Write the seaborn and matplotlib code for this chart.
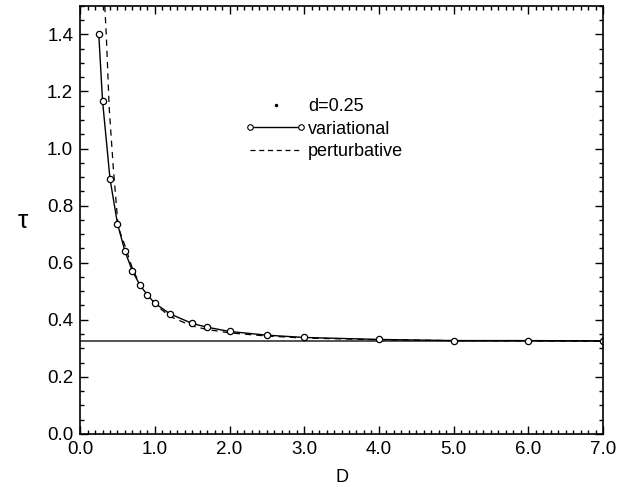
import numpy as np
import pandas as pd
import seaborn as sns
import matplotlib.pyplot as plt
from matplotlib.lines import Line2D
from matplotlib.legend_handler import HandlerLine2D
from matplotlib.ticker import MultipleLocator, FormatStrFormatter

# variational points (circles)
var_D = [0.25, 0.3, 0.4, 0.5, 0.6, 0.7, 0.8, 0.9, 1.0, 1.2, 1.5, 1.7, 2.0, 2.5,
         3.0, 4.0, 5.0, 6.0, 7.0]
var_tau = [1.40, 1.168, 0.894, 0.737, 0.640, 0.571, 0.522, 0.487, 0.458, 0.421,
           0.387, 0.374, 0.359, 0.346, 0.338, 0.331, 0.327, 0.327, 0.326]

# perturbative curve (dashed)
pert_D = [0.33, 0.35, 0.39, 0.445, 0.51, 0.6, 0.7, 0.8, 1.0, 1.2, 1.5, 1.7,
          2.0, 2.5, 3.0, 4.0, 5.0, 6.0, 7.0]
pert_tau = [1.50, 1.40, 1.14, 0.93, 0.725, 0.66, 0.58, 0.524, 0.455, 0.412,
            0.378, 0.366, 0.354, 0.343, 0.336, 0.330, 0.327, 0.326, 0.325]

# asymptotic limit
tau_inf = 0.324

sns.set_style('ticks')
plt.rcParams['font.family'] = ['Liberation Sans', 'DejaVu Sans']
plt.rcParams['text.color'] = 'black'
plt.rcParams['axes.labelcolor'] = 'black'
plt.rcParams['xtick.color'] = 'black'
plt.rcParams['ytick.color'] = 'black'
plt.rcParams['axes.edgecolor'] = 'black'

fig = plt.figure(figsize=(6.21, 4.87), dpi=100)
ax = fig.add_axes([0.129, 0.109, 0.842, 0.879])

var_df = pd.DataFrame({'D': var_D, 'tau': var_tau})
pert_df = pd.DataFrame({'D': pert_D, 'tau': pert_tau})

sns.lineplot(data=pert_df, x='D', y='tau', ax=ax, color='black', lw=0.9,
             linestyle=(0, (5, 4)), sort=False)
sns.lineplot(data=var_df, x='D', y='tau', ax=ax, color='black', lw=1.0,
             marker='o', markersize=4.5, markerfacecolor='white',
             markeredgecolor='black', markeredgewidth=0.9, sort=False)
ax.axhline(tau_inf, color='#444444', lw=1.3, zorder=0)

ax.set_xlim(0, 7)
ax.set_ylim(0, 1.5)
ax.xaxis.set_major_locator(MultipleLocator(1.0))
ax.xaxis.set_minor_locator(MultipleLocator(0.1))
ax.yaxis.set_major_locator(MultipleLocator(0.2))
ax.yaxis.set_minor_locator(MultipleLocator(0.05))
ax.xaxis.set_major_formatter(FormatStrFormatter('%.1f'))
ax.yaxis.set_major_formatter(FormatStrFormatter('%.1f'))
ax.tick_params(which='both', direction='in', top=True, right=True,
               labelsize=13.5, width=1.0)
ax.tick_params(which='major', length=6, pad=5)
ax.tick_params(which='minor', length=3)
for s in ax.spines.values():
    s.set_linewidth(1.2)

ax.set_xlabel('D', fontsize=13, labelpad=8)
ax.set_ylabel('τ', fontsize=19, rotation=0)
ax.yaxis.set_label_coords(-0.11, 0.47)

handles = [
    Line2D([], [], color='black', marker='.', markersize=3, linestyle='none'),
    Line2D([], [], color='black', lw=1.0, marker='o', markersize=4,
           markerfacecolor='white', markeredgewidth=0.8),
    Line2D([], [], color='black', lw=0.9, linestyle=(0, (4, 3))),
]
ax.legend(handles, ['d=0.25', 'variational', 'perturbative'],
          loc='upper left', bbox_to_anchor=(0.284, 0.822), frameon=False,
          fontsize=13, handlelength=3.4, handletextpad=0.1, labelspacing=0.3,
          numpoints=2, handler_map={handles[0]: HandlerLine2D(numpoints=1)})

plt.savefig('out.png', dpi=100)
plt.close()
